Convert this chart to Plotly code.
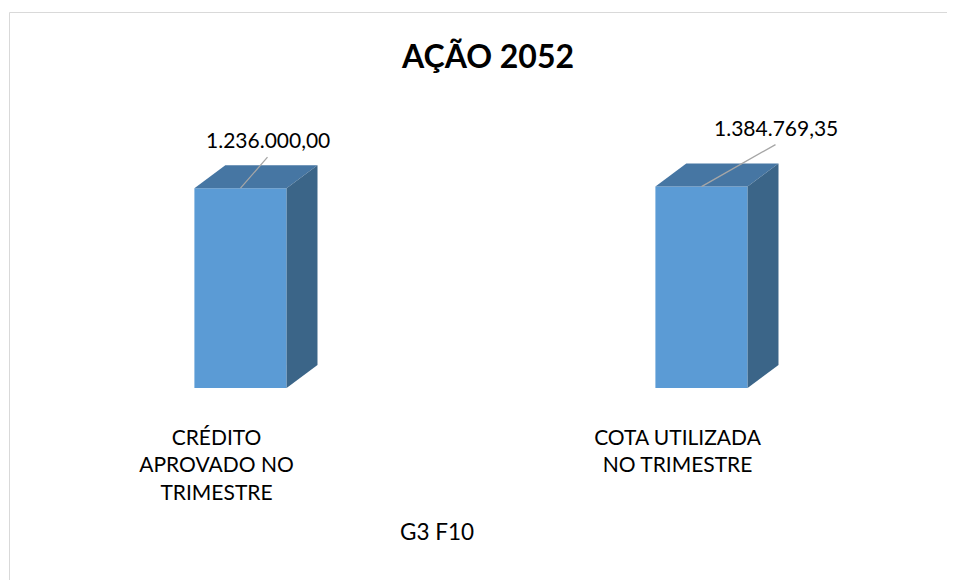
import math
import plotly.graph_objects as go

# ---- data ----
categories = ["CRÉDITO<br>APROVADO NO<br>TRIMESTRE", "COTA UTILIZADA<br>NO TRIMESTRE"]
values = [1236000.00, 1384769.35]
value_labels = ["1.236.000,00", "1.384.769,35"]
chart_title = "AÇÃO 2052"
axis_title = "G3 F10"

# ---- style ----
FONT = "Lato"
FRONT = "#5B9BD5"
TOP = "#4676A3"
SIDE = "#3B6588"
BAR_W = 0.2          # bar width in x units
DEPTH_X = 0.067      # 3D depth, x units
DEPTH_DEC = 0.70     # 3D depth, decades on the log value axis
Y_RANGE = [0, 7.5]   # log10 range of the value axis (1 .. 10^7.5)

# page body has an 8px margin; the figure fills the rest of the window
PAGE = 8
W, H = 955 - PAGE, 580 - PAGE
ML, MR, MT, MB = 2, 23, 134, 192
PW, PH = W - ML - MR, H - MT - MB


def px_paper_x(px):  # reference window pixel -> paper x
    return (px - PAGE - ML) / PW


def px_paper_y(py):  # reference window pixel -> paper y
    return (H - MB - (py - PAGE)) / PH


xs = list(range(len(values)))
f = 10 ** DEPTH_DEC
base = 10 ** Y_RANGE[0]

fig = go.Figure()
fig.add_trace(go.Bar(x=xs, y=values, base=[base] * len(values), width=BAR_W,
                     marker=dict(color=FRONT, line=dict(width=0)),
                     hoverinfo="skip", showlegend=False))

for x, v in zip(xs, values):
    l, r = x - BAR_W / 2, x + BAR_W / 2
    # top face
    fig.add_trace(go.Scatter(
        x=[l, l + DEPTH_X, r + DEPTH_X, r, l],
        y=[v, v * f, v * f, v, v],
        mode="lines", fill="toself", fillcolor=TOP,
        line=dict(width=0, color=TOP), hoverinfo="skip", showlegend=False))
    # side face
    fig.add_trace(go.Scatter(
        x=[r, r + DEPTH_X, r + DEPTH_X, r, r],
        y=[base, base * f, v * f, v, base],
        mode="lines", fill="toself", fillcolor=SIDE,
        line=dict(width=0, color=SIDE), hoverinfo="skip", showlegend=False))

# data labels with leader lines
offsets = [(27, -31), (74, -42)]
for x, v, lab, (ax, ay) in zip(xs, values, value_labels, offsets):
    fig.add_annotation(x=x, y=math.log10(v), xref="x", yref="y", text=lab,
                       showarrow=True, arrowhead=0, arrowwidth=1.3, arrowcolor="#A6A6A6",
                       ax=ax, ay=ay, xanchor="center", yanchor="bottom", borderpad=4,
                       font=dict(family=FONT, size=21, color="#000000"))

# axis title
fig.add_annotation(text=axis_title, x=px_paper_x(437), y=px_paper_y(531), xref="paper", yref="paper",
                   showarrow=False, xanchor="center", yanchor="middle",
                   font=dict(family=FONT, size=22.5, color="#000000"))

fig.update_layout(
    width=W, height=H,
    margin=dict(l=ML, r=MR, t=MT, b=MB),
    paper_bgcolor="white", plot_bgcolor="white",
    title=dict(text=f"<b>{chart_title}</b>", x=(488 - PAGE) / W, xanchor="center",
               y=1 - (57 - PAGE) / H, yanchor="middle",
               font=dict(family=FONT, size=32, color="#000000")),
    xaxis=dict(range=[-0.5, 1.5], tickvals=xs, ticktext=categories, showgrid=False,
               zeroline=False, showline=False, ticks="", ticklabelshift=-24,
               ticklabelstandoff=35, tickfont=dict(family=FONT, size=21, color="#000000"),
               fixedrange=True),
    yaxis=dict(type="log", range=Y_RANGE, visible=False, showgrid=False, fixedrange=True),
    shapes=[dict(type="rect", xref="paper", yref="paper",
                 x0=px_paper_x(9.5), x1=px_paper_x(975),
                 y0=px_paper_y(600), y1=px_paper_y(12.5),
                 line=dict(color="#D9D9D9", width=1), fillcolor="rgba(0,0,0,0)", layer="below")],
)

fig.write_html("out.html")
